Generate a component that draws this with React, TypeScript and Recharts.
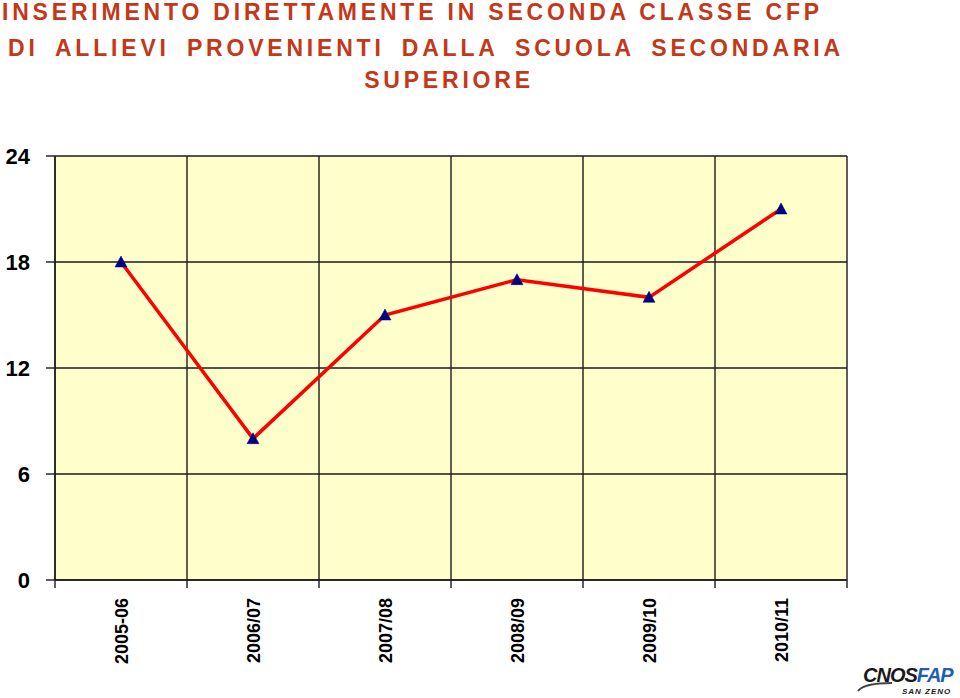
import React from 'react';
import { ComposedChart, Line, XAxis, YAxis, CartesianGrid } from 'recharts';

const years = ['2005-06', '2006/07', '2007/08', '2008/09', '2009/10', '2010/11'];
const values = [18, 8, 15, 17, 16, 21];
const yTicks = [0, 6, 12, 18, 24];
const boundaryTicks = [0, 1, 2, 3, 4, 5, 6];
const titleLines = [
  'INSERIMENTO DIRETTAMENTE IN SECONDA CLASSE CFP',
  'DI ALLIEVI PROVENIENTI DALLA SCUOLA SECONDARIA',
  'SUPERIORE',
];

const data = years.map((year, i) => ({ year, value: values[i] }));

const FONT = '"Liberation Sans", Arial, sans-serif';
const TITLE_COLOR = '#C4381A';

const Triangle = (props: any) => {
  const { cx, cy } = props;
  if (cx == null || cy == null) return null;
  return (
    <path
      d={`M${cx},${cy - 6} L${cx + 6},${cy + 5} L${cx - 6},${cy + 5} Z`}
      fill="#000080"
      stroke="#000080"
      strokeWidth={0.5}
    />
  );
};

const XTick = (props: any) => {
  const { x, y, payload } = props;
  return (
    <text
      transform={`translate(${x + 6.5},${y + 8}) rotate(-90)`}
      textAnchor="end"
      fontFamily={FONT}
      fontWeight="bold"
      fontSize={18}
      fill="#000"
    >
      {payload.value}
    </text>
  );
};

const titleStyle: React.CSSProperties = {
  position: 'absolute',
  fontFamily: FONT,
  fontWeight: 'bold',
  fontSize: 23,
  letterSpacing: 3.8,
  color: TITLE_COLOR,
  whiteSpace: 'pre',
};

export default function App() {
  return (
    <div style={{ position: 'absolute', left: 0, top: 0, width: 960, height: 698, background: '#fff', overflow: 'hidden' }}>
      <div style={{ ...titleStyle, left: 2, top: -1 }}>{titleLines[0]}</div>
      <div style={{ ...titleStyle, left: 8, top: 35, wordSpacing: 7 }}>{titleLines[1]}</div>
      <div style={{ ...titleStyle, left: 0, width: 898, textAlign: 'center', top: 67 }}>{titleLines[2]}</div>
      <div style={{ position: 'absolute', left: 0, top: 0 }}>
        <ComposedChart width={960} height={698} data={data} margin={{ top: 156, right: 113, bottom: 0, left: 0 }}>
          <CartesianGrid
            xAxisId="a"
            fill="#FFFFCC"
            stroke="#1a1a1a"
            strokeWidth={1.4}
            fillOpacity={1}
          />
          <XAxis
            xAxisId="a"
            type="number"
            dataKey="__slot"
            domain={[0, years.length]}
            ticks={boundaryTicks}
            allowDataOverflow
            tickSize={8}
            tickFormatter={() => ''}
            height={10}
            stroke="#1a1a1a"
            axisLine={{ stroke: '#1a1a1a', strokeWidth: 1.4 }}
            tickLine={{ stroke: '#1a1a1a', strokeWidth: 1.4 }}
          />
          <XAxis
            xAxisId="b"
            dataKey="year"
            scale="band"
            height={108}
            axisLine={false}
            tickLine={false}
            tickMargin={0}
            tickSize={0}
            interval={0}
            tick={<XTick />}
          />
          <YAxis
            domain={[0, 24]}
            ticks={yTicks}
            width={55}
            tickSize={9}
            tickMargin={16}
            axisLine={{ stroke: '#1a1a1a', strokeWidth: 1.4 }}
            tickLine={{ stroke: '#1a1a1a', strokeWidth: 1.4 }}
            tick={{ fontFamily: FONT, fontWeight: 'bold', fontSize: 22, fill: '#000' }}
          />
          <Line
            xAxisId="b"
            dataKey="value"
            stroke="#FF0000"
            strokeWidth={3.5}
            dot={<Triangle />}
            activeDot={false}
            isAnimationActive={false}
          />
        </ComposedChart>
      </div>
      <svg style={{ position: 'absolute', left: 850, top: 676 }} width={60} height={20}>
        <path d="M8,15 Q14,7 42,7" stroke="#444" strokeWidth={2} fill="none" />
      </svg>
      <div style={{ position: 'absolute', left: 863, top: 664, fontFamily: FONT, fontWeight: 'bold', fontStyle: 'italic', fontSize: 20, letterSpacing: -1, whiteSpace: 'pre' }}>
        <span style={{ color: '#1a1a1a' }}>CNOS</span>
        <span style={{ color: '#1f5fb0' }}>FAP</span>
      </div>
      <div style={{ position: 'absolute', left: 902, top: 687, fontFamily: FONT, fontWeight: 'bold', fontStyle: 'italic', fontSize: 8, letterSpacing: 1, color: '#1a1a1a', whiteSpace: 'pre' }}>
        SAN ZENO
      </div>
    </div>
  );
}
